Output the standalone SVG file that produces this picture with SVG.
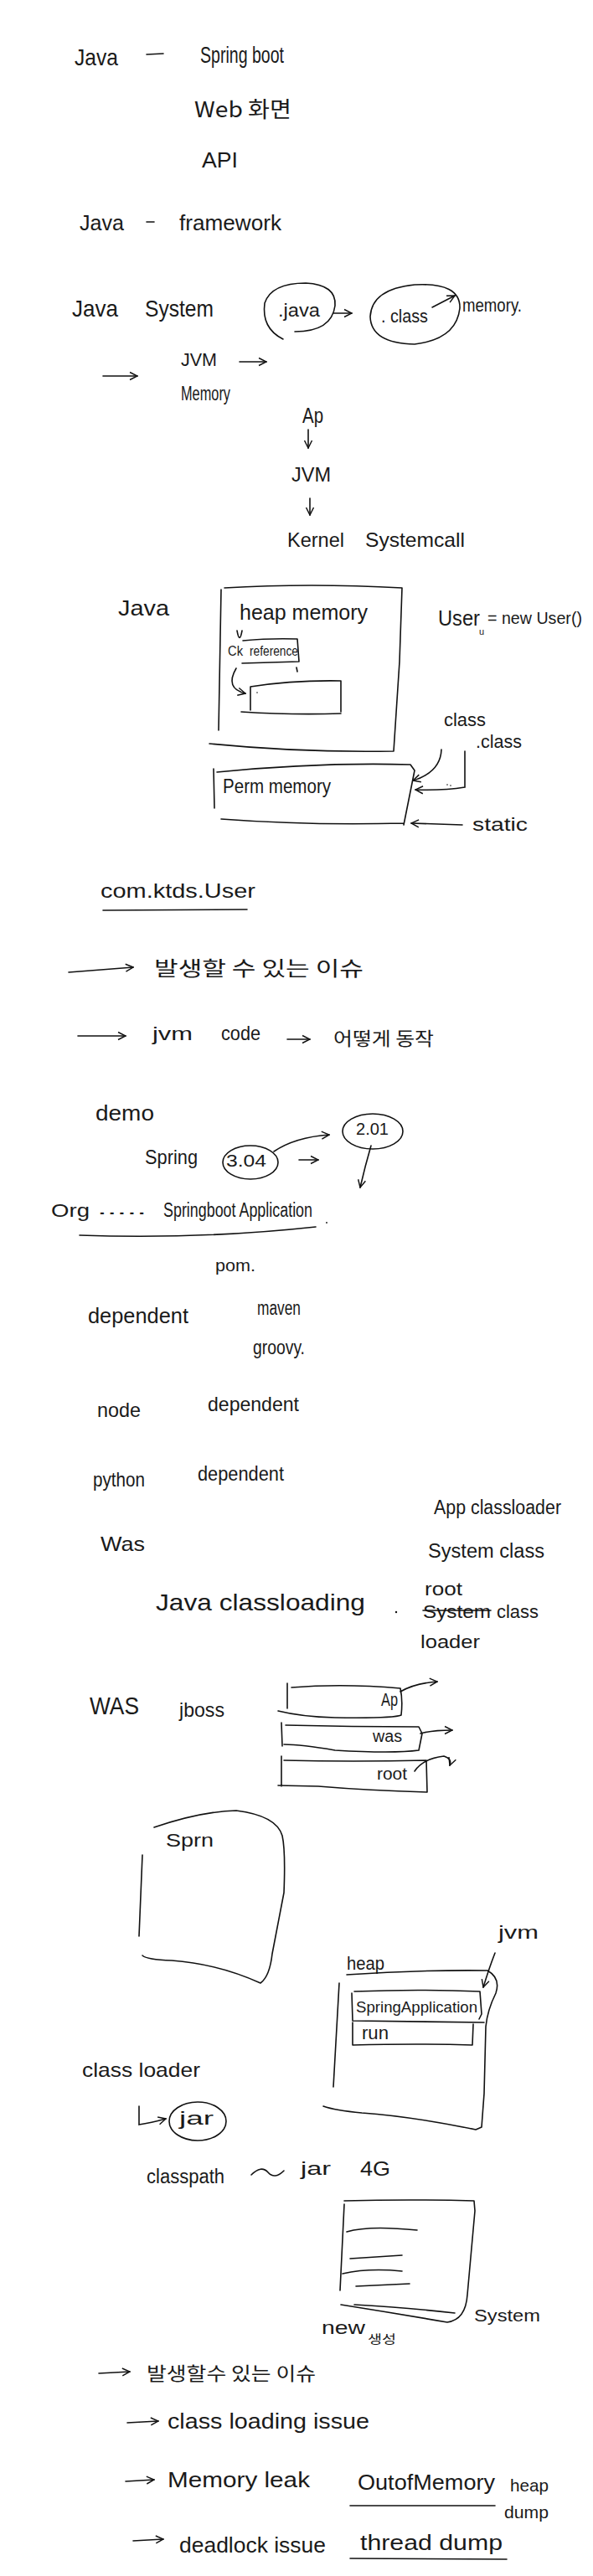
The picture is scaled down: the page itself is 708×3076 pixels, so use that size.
<svg xmlns="http://www.w3.org/2000/svg" width="708" height="3076" viewBox="0 0 708 3076">
<style>
.t{font-family:"Liberation Sans","Noto Sans CJK KR",sans-serif;fill:#1a1a1a;}
.k{font-family:"Noto Sans CJK KR","Liberation Sans",sans-serif;fill:#1a1a1a;}
.s{fill:none;stroke:#111;stroke-width:1.6;stroke-linecap:round;stroke-linejoin:round;}
.a{fill:none;stroke:#111;stroke-width:1.6;stroke-linecap:round;marker-end:url(#ah);}
</style>
<defs>
<marker id="ah" viewBox="0 0 10 10" refX="9" refY="5" markerWidth="7" markerHeight="7" orient="auto" markerUnits="strokeWidth">
<path d="M1,1 L9,5 L1,9" fill="none" stroke="#111" stroke-width="1.3"/>
</marker>
</defs>
<rect width="708" height="3076" fill="#fff"/>

<g id="n-java-springboot">
<text class="t" x="89" y="78" font-size="28" textLength="52" lengthAdjust="spacingAndGlyphs">Java</text>
<path class="s" d="M175,65 L195,64"/>
<text class="t" x="239" y="75" font-size="27" textLength="100" lengthAdjust="spacingAndGlyphs">Spring boot</text>
</g>
<g id="n-web"><text class="k" x="232" y="140" font-size="26" textLength="116" lengthAdjust="spacingAndGlyphs">Web 화면</text></g>
<g id="n-api"><text class="t" x="241" y="200" font-size="26" textLength="43" lengthAdjust="spacingAndGlyphs">API</text></g>
<g id="n-java-framework">
<text class="t" x="95" y="275" font-size="26" textLength="53" lengthAdjust="spacingAndGlyphs">Java</text>
<path class="s" d="M175,265 L184,265"/>
<text class="t" x="214" y="275" font-size="26" textLength="122" lengthAdjust="spacingAndGlyphs">framework</text>
</g>
<g id="n-java-system">
<text class="t" x="86" y="378" font-size="28" textLength="55" lengthAdjust="spacingAndGlyphs">Java</text>
<text class="t" x="173" y="378" font-size="28" textLength="82" lengthAdjust="spacingAndGlyphs">System</text>
</g>
<g id="n-java-file">
<path class="s" d="M338,405 Q312,392 316,362 Q324,338 365,338 Q402,340 400,365 Q396,396 352,396"/>
<text class="t" x="332" y="378" font-size="22" textLength="50" lengthAdjust="spacingAndGlyphs">.java</text>
</g>
<g id="n-class-file">
<path class="s" d="M495,340 Q550,337 549,368 Q545,405 495,411 Q443,410 442,378 Q444,345 495,340 Z"/>
<text class="t" x="455" y="385" font-size="22" textLength="56" lengthAdjust="spacingAndGlyphs">. class</text>
</g>
<g id="n-memory"><text class="t" x="552" y="372" font-size="22" textLength="71" lengthAdjust="spacingAndGlyphs">memory.</text></g>
<g id="n-jvm-memory">
<text class="t" x="216" y="437" font-size="22" textLength="43" lengthAdjust="spacingAndGlyphs">JVM</text>
<text class="t" x="216" y="478" font-size="23" textLength="59" lengthAdjust="spacingAndGlyphs">Memory</text>
</g>
<g id="n-ap"><text class="t" x="361" y="505" font-size="26" textLength="25" lengthAdjust="spacingAndGlyphs">Ap</text></g>
<g id="n-jvm2"><text class="t" x="348" y="575" font-size="24" textLength="47" lengthAdjust="spacingAndGlyphs">JVM</text></g>
<g id="n-kernel">
<text class="t" x="343" y="653" font-size="24" textLength="68" lengthAdjust="spacingAndGlyphs">Kernel</text>
<text class="t" x="436" y="653" font-size="24" textLength="119" lengthAdjust="spacingAndGlyphs">Systemcall</text>
</g>
<g id="n-java3"><text class="t" x="141" y="735" font-size="26" textLength="61" lengthAdjust="spacingAndGlyphs">Java</text></g>
<g id="n-heap-memory">
<path class="s" d="M268,702 Q370,696 480,702 L477,790 L470,897 M264,704 L261,872 M250,888 Q360,899 470,897"/>
<text class="t" x="286" y="740" font-size="26" textLength="153" lengthAdjust="spacingAndGlyphs">heap memory</text>
<path class="s" d="M283,753 Q286,770 289,753"/>
<text class="t" x="272" y="783" font-size="16" textLength="18" lengthAdjust="spacingAndGlyphs">Ck</text>
<path class="s" d="M290,765 Q320,762 355,763 L357,790 L289,792"/>
<text class="t" x="298" y="783" font-size="16" textLength="58" lengthAdjust="spacingAndGlyphs">reference</text>
<path class="s" d="M354,797 L355,802"/>
<path class="s" d="M299,820 Q350,812 407,813 L407,850 M288,850 Q350,854 407,852 M299,820 L299,848"/>
<circle cx="307" cy="827" r="0.8" fill="#111"/>
</g>
<g id="n-user"><text class="t" x="523" y="747" font-size="26" textLength="50" lengthAdjust="spacingAndGlyphs">User</text>
<text class="t" x="572" y="758" font-size="11">u</text>
<text class="t" x="582" y="745" font-size="21" textLength="113" lengthAdjust="spacingAndGlyphs">= new User()</text></g>
<g id="n-perm">
<path class="s" d="M259,922 Q380,910 490,913 L495,920 L482,985 M255,918 L256,965 M264,978 Q370,986 482,983"/>
<text class="t" x="266" y="947" font-size="24" textLength="129" lengthAdjust="spacingAndGlyphs">Perm memory</text>
</g>
<g id="n-class-labels">
<text class="t" x="530" y="867" font-size="22" textLength="50" lengthAdjust="spacingAndGlyphs">class</text>
<text class="t" x="568" y="893" font-size="22" textLength="55" lengthAdjust="spacingAndGlyphs">.class</text>
<circle cx="534" cy="937" r="0.8" fill="#111"/><circle cx="538" cy="938" r="0.8" fill="#111"/>
</g>
<g id="n-static"><text class="t" x="564" y="992" font-size="22" textLength="66" lengthAdjust="spacingAndGlyphs">static</text></g>
<g id="n-com">
<text class="t" x="120" y="1072" font-size="24" textLength="185" lengthAdjust="spacingAndGlyphs">com.ktds.User</text>
<path class="s" d="M123,1087 L295,1086"/>
</g>
<g id="n-issue1"><text class="k" x="184" y="1165" font-size="24" textLength="250" lengthAdjust="spacingAndGlyphs">발생할 수  있는  이슈</text></g>
<g id="n-jvm-code">
<text class="t" x="182" y="1242" font-size="22" textLength="48" lengthAdjust="spacingAndGlyphs">jvm</text>
<text class="t" x="264" y="1242" font-size="24" textLength="47" lengthAdjust="spacingAndGlyphs">code</text>
<text class="k" x="398" y="1248" font-size="22" textLength="120" lengthAdjust="spacingAndGlyphs">어떻게 동작</text>
</g>
<g id="n-demo"><text class="t" x="114" y="1338" font-size="26" textLength="70" lengthAdjust="spacingAndGlyphs">demo</text></g>
<g id="n-spring-ver">
<text class="t" x="173" y="1390" font-size="24" textLength="63" lengthAdjust="spacingAndGlyphs">Spring</text>
<ellipse class="s" cx="299" cy="1388" rx="33" ry="20"/>
<text class="t" x="270" y="1393" font-size="20" textLength="48" lengthAdjust="spacingAndGlyphs">3.04</text>
</g>
<g id="n-ver2">
<ellipse class="s" cx="445" cy="1351" rx="36" ry="21"/>
<text class="t" x="425" y="1355" font-size="20" textLength="39" lengthAdjust="spacingAndGlyphs">2.01</text>
</g>
<g id="n-org">
<text class="t" x="61" y="1453" font-size="22" textLength="46" lengthAdjust="spacingAndGlyphs">Org</text>
<text class="t" x="116" y="1450" font-size="20" textLength="59" lengthAdjust="spacingAndGlyphs">.....</text>
<text class="t" x="195" y="1453" font-size="23" textLength="178" lengthAdjust="spacingAndGlyphs">Springboot Application</text>
<path class="s" d="M95,1475 Q240,1480 377,1465"/>
<circle cx="390" cy="1460" r="0.9" fill="#111"/>
</g>
<g id="n-pom"><text class="t" x="257" y="1518" font-size="20" textLength="48" lengthAdjust="spacingAndGlyphs">pom.</text></g>
<g id="n-dependent1"><text class="t" x="105" y="1580" font-size="26" textLength="120" lengthAdjust="spacingAndGlyphs">dependent</text></g>
<g id="n-maven"><text class="t" x="307" y="1570" font-size="23" textLength="52" lengthAdjust="spacingAndGlyphs">maven</text></g>
<g id="n-groovy"><text class="t" x="302" y="1617" font-size="23" textLength="62" lengthAdjust="spacingAndGlyphs">groovy.</text></g>
<g id="n-node">
<text class="t" x="116" y="1692" font-size="24" textLength="52" lengthAdjust="spacingAndGlyphs">node</text>
<text class="t" x="248" y="1685" font-size="24" textLength="109" lengthAdjust="spacingAndGlyphs">dependent</text>
</g>
<g id="n-python">
<text class="t" x="111" y="1775" font-size="24" textLength="62" lengthAdjust="spacingAndGlyphs">python</text>
<text class="t" x="236" y="1768" font-size="23" textLength="103" lengthAdjust="spacingAndGlyphs">dependent</text>
</g>
<g id="n-app-cl"><text class="t" x="518" y="1808" font-size="23" textLength="152" lengthAdjust="spacingAndGlyphs">App classloader</text></g>
<g id="n-was"><text class="t" x="120" y="1852" font-size="24" textLength="53" lengthAdjust="spacingAndGlyphs">Was</text></g>
<g id="n-system-class"><text class="t" x="511" y="1860" font-size="23" textLength="139" lengthAdjust="spacingAndGlyphs">System class</text></g>
<g id="n-java-cl">
<text class="t" x="186" y="1923" font-size="28" textLength="250" lengthAdjust="spacingAndGlyphs">Java classloading</text>
<circle cx="473" cy="1925" r="1.2" fill="#111"/>
</g>
<g id="n-root-cl">
<text class="t" x="507" y="1905" font-size="22" textLength="45" lengthAdjust="spacingAndGlyphs">root</text>
<text class="t" x="505" y="1932" font-size="22" textLength="81" lengthAdjust="spacingAndGlyphs">System</text>
<path class="s" d="M505,1923 L586,1923"/>
<text class="t" x="593" y="1932" font-size="22" textLength="50" lengthAdjust="spacingAndGlyphs">class</text>
<text class="t" x="502" y="1968" font-size="22" textLength="71" lengthAdjust="spacingAndGlyphs">loader</text>
</g>
<g id="n-WAS">
<text class="t" x="107" y="2047" font-size="30" textLength="59" lengthAdjust="spacingAndGlyphs">WAS</text>
<text class="t" x="214" y="2050" font-size="24" textLength="54" lengthAdjust="spacingAndGlyphs">jboss</text>
</g>
<g id="n-box-ap">
<path class="s" d="M343,2010 L343,2040 M348,2015 Q410,2010 478,2016 Q481,2030 479,2048 Q470,2052 400,2051 Q360,2050 332,2043"/>
<text class="t" x="455" y="2037" font-size="22" textLength="20" lengthAdjust="spacingAndGlyphs">Ap</text>
</g>
<g id="n-box-was">
<path class="s" d="M336,2057 L337,2085 M341,2060 Q420,2062 500,2062 L504,2070 L500,2090 Q470,2094 400,2090 Q360,2083 339,2083"/>
<text class="t" x="445" y="2080" font-size="20" textLength="35" lengthAdjust="spacingAndGlyphs">was</text>
</g>
<g id="n-box-root">
<path class="s" d="M336,2097 L336,2133 M339,2102 Q420,2104 509,2102 L510,2140 Q440,2138 380,2133 L332,2132"/>
<text class="t" x="450" y="2125" font-size="20" textLength="36" lengthAdjust="spacingAndGlyphs">root</text>
</g>
<g id="n-sprn">
<path class="s" d="M184,2182 Q240,2163 282,2162 Q330,2168 337,2192 Q341,2210 339,2260 L325,2333 Q322,2360 311,2368 Q260,2345 205,2341 Q175,2340 170,2335 M170,2215 L166,2312"/>
<text class="t" x="198" y="2205" font-size="22" textLength="57" lengthAdjust="spacingAndGlyphs">Sprn</text>
</g>
<g id="n-jvm3"><text class="t" x="595" y="2315" font-size="22" textLength="48" lengthAdjust="spacingAndGlyphs">jvm</text></g>
<g id="n-heap2">
<text class="t" x="414" y="2352" font-size="22" textLength="45" lengthAdjust="spacingAndGlyphs">heap</text>
<path class="s" d="M414,2358 Q500,2352 582,2353 Q598,2362 592,2380 Q582,2400 580,2420 L578,2500 L575,2540 L568,2543 Q490,2527 432,2523 Q400,2520 386,2515 M405,2368 L398,2492"/>
<path class="s" d="M423,2378 Q500,2375 573,2378 L575,2405 L572,2411 M420,2380 L421,2413 L578,2415"/>
<text class="t" x="425" y="2403" font-size="19" textLength="145" lengthAdjust="spacingAndGlyphs">SpringApplication</text>
<path class="s" d="M421,2415 L421,2442 Q500,2440 564,2442 L565,2417"/>
<text class="t" x="432" y="2435" font-size="22" textLength="32" lengthAdjust="spacingAndGlyphs">run</text>
</g>
<g id="n-classloader"><text class="t" x="98" y="2480" font-size="24" textLength="141" lengthAdjust="spacingAndGlyphs">class loader</text></g>
<g id="n-jar">
<ellipse class="s" cx="236" cy="2533" rx="34" ry="23"/>
<text class="t" x="214" y="2537" font-size="22" textLength="41" lengthAdjust="spacingAndGlyphs">jar</text>
</g>
<g id="n-classpath">
<text class="t" x="175" y="2607" font-size="23" textLength="93" lengthAdjust="spacingAndGlyphs">classpath</text>
<path class="s" d="M300,2597 Q312,2585 320,2594 Q328,2603 339,2592"/>
<text class="t" x="359" y="2597" font-size="22" textLength="36" lengthAdjust="spacingAndGlyphs">jar</text>
<text class="t" x="430" y="2598" font-size="24" textLength="36" lengthAdjust="spacingAndGlyphs">4G</text>
</g>
<g id="n-system-box">
<path class="s" d="M411,2628 Q490,2626 566,2628 L567,2640 L558,2740 Q556,2770 534,2773 Q470,2762 407,2752 M411,2632 L406,2735 M423,2752 Q480,2755 543,2762"/>
<path class="s" d="M414,2665 Q440,2657 498,2663 M418,2697 L480,2693 M409,2715 Q440,2708 480,2712 M425,2730 L489,2727"/>
<text class="t" x="566" y="2772" font-size="21" textLength="79" lengthAdjust="spacingAndGlyphs">System</text>
</g>
<g id="n-new">
<text class="t" x="384" y="2787" font-size="22" textLength="52" lengthAdjust="spacingAndGlyphs">new</text>
<text class="k" x="439" y="2798" font-size="14" textLength="34" lengthAdjust="spacingAndGlyphs">생성</text>
</g>
<g id="n-issue2"><text class="k" x="175" y="2842" font-size="22" textLength="202" lengthAdjust="spacingAndGlyphs">발생할수 있는 이슈</text></g>
<g id="n-cl-issue"><text class="t" x="200" y="2900" font-size="25" textLength="241" lengthAdjust="spacingAndGlyphs">class loading issue</text></g>
<g id="n-memleak">
<text class="t" x="200" y="2970" font-size="26" textLength="170" lengthAdjust="spacingAndGlyphs">Memory leak</text>
<text class="t" x="427" y="2973" font-size="26" textLength="164" lengthAdjust="spacingAndGlyphs">OutofMemory</text>
<path class="s" d="M418,2992 L591,2992"/>
<text class="t" x="609" y="2975" font-size="21" textLength="46" lengthAdjust="spacingAndGlyphs">heap</text>
<text class="t" x="602" y="3007" font-size="21" textLength="53" lengthAdjust="spacingAndGlyphs">dump</text>
</g>
<g id="n-deadlock">
<text class="t" x="214" y="3048" font-size="26" textLength="175" lengthAdjust="spacingAndGlyphs">deadlock issue</text>
<text class="t" x="430" y="3045" font-size="26" textLength="170" lengthAdjust="spacingAndGlyphs">thread dump</text>
<path class="s" d="M418,3055 L605,3056"/>
</g>

<g id="connectors">
<path class="a" d="M398,374 L420,374"/>
<path class="a" d="M516,367 L543,353"/>
<path class="a" d="M286,432 L318,432"/>
<path class="a" d="M123,449 L164,449"/>
<path class="a" d="M368,513 L368,535"/>
<path class="a" d="M370,595 L370,615"/>
<path class="a" d="M282,798 Q268,822 293,828"/>
<path class="a" d="M527,895 Q526,922 493,932"/>
<path class="a" d="M555,897 L555,940 Q530,944 496,943"/>
<path class="a" d="M552,985 L491,983"/>
<path class="a" d="M82,1161 L159,1155"/>
<path class="a" d="M93,1237 L150,1237"/>
<path class="a" d="M343,1241 L370,1241"/>
<path class="a" d="M327,1375 Q352,1358 393,1355"/>
<path class="a" d="M357,1385 L380,1385"/>
<path class="a" d="M443,1368 Q436,1392 430,1418"/>
<path class="a" d="M478,2020 Q495,2010 522,2008"/>
<path class="a" d="M502,2070 Q515,2066 540,2066"/>
<path class="a" d="M495,2115 Q505,2100 530,2097 Q540,2100 537,2108"/>
<path class="a" d="M591,2332 Q584,2350 577,2373"/>
<path class="a" d="M166,2515 L166,2537 Q180,2535 198,2530"/>
<path class="a" d="M118,2834 L155,2832"/>
<path class="a" d="M152,2893 L189,2891"/>
<path class="a" d="M150,2963 L184,2961"/>
<path class="a" d="M159,3034 L195,3032"/>
</g>
</svg>
